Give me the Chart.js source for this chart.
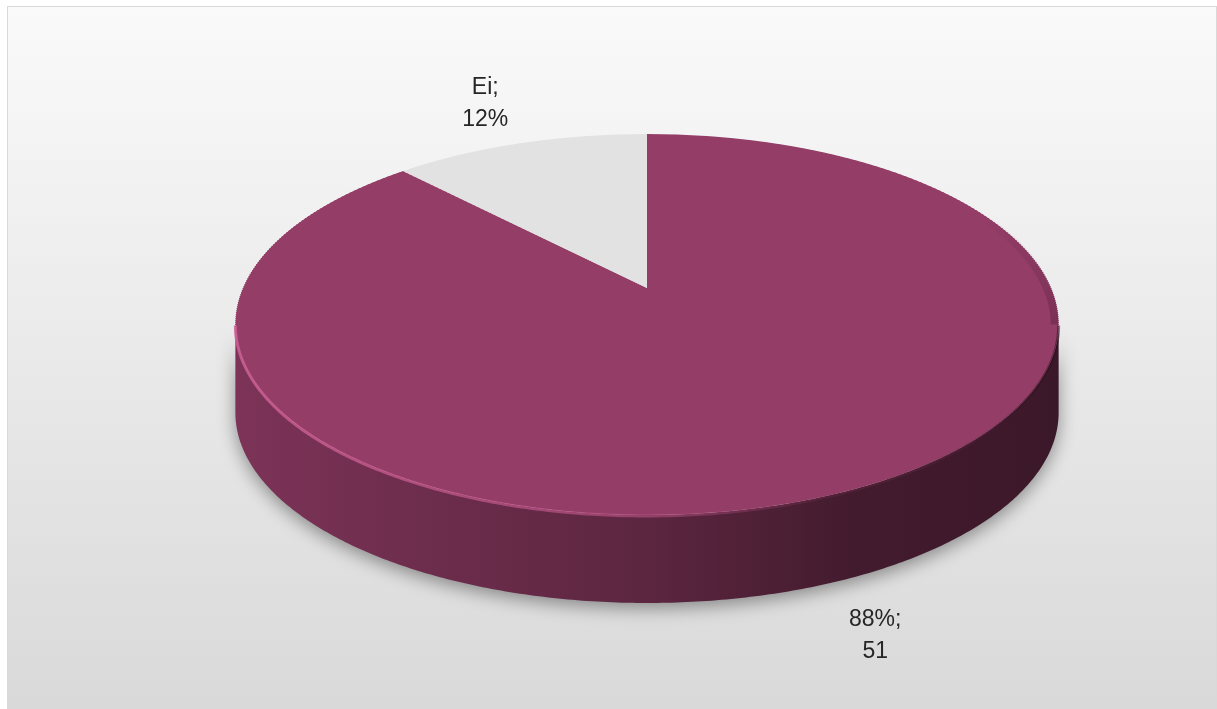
<!doctype html>
<html lang="fi">
<head>
<meta charset="utf-8">
<title>Ei / Kyllä</title>
<script src="https://cdn.jsdelivr.net/npm/chart.js@4.4.1/dist/chart.umd.min.js"></script>
<style>
  html, body { margin: 0; padding: 0; background: #fff; }
  canvas { display: block; }
</style>
</head>
<body>
<canvas id="pie-chart" width="1217" height="709"></canvas>
<script>
// data
var categories = ['Kyllä', 'Ei'];
var values = [51, 7];
var colours = ['#943d67', '#e2e2e2'];
// what each data label shows, line by line
var labelParts = [['percent', 'value'], ['category', 'percent']];
var labelDistance = [1.2, 1.34];

// how the flat pie is tilted on screen (simple perspective)
var view = { cx: 647, cy: 288, rx: 404, ry: 183.5, persp: 0.1916, depth: 88 };

function project(u, v) {
  var w = 1 - view.persp * v;
  return { x: view.cx + view.rx * u / w, y: view.cy + view.ry * v / w };
}

function hexRgb(h) {
  h = h.replace('#', '');
  return [parseInt(h.substr(0, 2), 16), parseInt(h.substr(2, 2), 16), parseInt(h.substr(4, 2), 16)];
}

function shade(hex, f) {
  var c = hexRgb(hex);
  return 'rgb(' + Math.round(c[0] * f) + ',' + Math.round(c[1] * f) + ',' + Math.round(c[2] * f) + ')';
}

// part of [a0,a1] that lies on the visible front of the pie
function frontRange(a0, a1) {
  var lo = Math.asin(view.persp), hi = Math.PI - lo;
  for (var k = -1; k <= 1; k++) {
    var s = Math.max(a0 + k * 2 * Math.PI, lo), e = Math.min(a1 + k * 2 * Math.PI, hi);
    if (e > s) return [s, e];
  }
  return null;
}

function outline(a0, a1, dy) {
  var pts = [];
  var n = Math.max(2, Math.ceil((a1 - a0) / 0.01));
  for (var i = 0; i <= n; i++) {
    var t = a0 + (a1 - a0) * i / n;
    var p = project(Math.cos(t), Math.sin(t));
    pts.push([p.x, p.y + dy]);
  }
  return pts;
}

function tracePath(ctx, pts, dx, dy) {
  ctx.beginPath();
  pts.forEach(function (p, j) { j ? ctx.lineTo(p[0] + dx, p[1] + dy) : ctx.moveTo(p[0] + dx, p[1] + dy); });
}

var pie3d = {
  id: 'pie3d',
  beforeDraw: function (chart) {
    var ctx = chart.ctx;
    ctx.save();
    ctx.fillStyle = '#ffffff';
    ctx.fillRect(0, 0, chart.width, chart.height);
    var g = ctx.createLinearGradient(0, 6, 0, chart.height);
    g.addColorStop(0, '#fafafa');
    g.addColorStop(1, '#d9d9d9');
    ctx.fillStyle = g;
    ctx.fillRect(7, 6, chart.width - 7, chart.height - 6);
    ctx.strokeStyle = '#d9d9d9';
    ctx.lineWidth = 1;
    ctx.strokeRect(7.5, 6.5, chart.width - 8, chart.height);
    ctx.restore();
  },
  beforeDatasetsDraw: function (chart) {
    var ctx = chart.ctx;
    var arcs = chart.getDatasetMeta(0).data;
    var left = view.cx - view.rx * 1.02, right = view.cx + view.rx * 1.02;

    // side walls of the slices at the front
    arcs.forEach(function (el, i) {
      var r = frontRange(el.startAngle, el.endAngle);
      if (!r) return;
      var top = outline(r[0], r[1], 0);
      var bot = outline(r[0], r[1], view.depth).reverse();
      var g = ctx.createLinearGradient(left, 0, right, 0);
      g.addColorStop(0, shade(colours[i], 0.84));
      g.addColorStop(0.5, shade(colours[i], 0.62));
      g.addColorStop(0.75, shade(colours[i], 0.45));
      g.addColorStop(1, shade(colours[i], 0.4));
      ctx.save();
      ctx.shadowColor = 'rgba(0,0,0,0.4)';
      ctx.shadowBlur = 18;
      ctx.shadowOffsetY = 5;
      ctx.fillStyle = g;
      tracePath(ctx, top.concat(bot), 0, 0);
      ctx.closePath();
      ctx.fill();
      ctx.restore();
    });

    // top face: let Chart.js draw its arcs strip by strip, each strip squashed for its depth
    var el0 = arcs[0];
    var ccx = el0.x, ccy = el0.y, R = el0.outerRadius;
    var yTop = Math.floor(project(0, -1).y) - 2, yBot = Math.ceil(project(0, 1).y) + 2;
    for (var y = yTop; y < yBot; y += 2) {
      var ym = y + 1;
      var vm = (ym - view.cy) / (view.ry + view.persp * (ym - view.cy));
      var wm = 1 - view.persp * vm;
      var a = view.rx / (wm * R), d = view.ry / (wm * wm * R);
      ctx.save();
      ctx.beginPath();
      ctx.rect(0, y, chart.width, 2);
      ctx.clip();
      ctx.transform(a, 0, 0, d, view.cx - a * ccx, ym - d * (ccy + vm * R));
      arcs.forEach(function (el) { el.draw(ctx); });
      ctx.restore();
    }

    // light rim along the front edge, soft dark rim on the right
    var lo = Math.asin(view.persp);
    var rim = outline(lo, Math.PI - lo, 0);
    var rg = ctx.createLinearGradient(left, 0, right, 0);
    rg.addColorStop(0, 'rgba(205,95,150,0.85)');
    rg.addColorStop(0.5, 'rgba(195,88,140,0.55)');
    rg.addColorStop(0.72, 'rgba(150,60,100,0.15)');
    rg.addColorStop(1, 'rgba(40,10,25,0.5)');
    ctx.save();
    ctx.strokeStyle = rg;
    ctx.lineWidth = 3;
    tracePath(ctx, rim, 0, 1);
    ctx.stroke();
    var dark = outline(-0.45, lo, 0);
    var dg = ctx.createLinearGradient(0, dark[0][1], 0, dark[dark.length - 1][1]);
    dg.addColorStop(0, 'rgba(45,12,28,0)');
    dg.addColorStop(1, 'rgba(45,12,28,0.25)');
    ctx.strokeStyle = dg;
    ctx.lineWidth = 8;
    tracePath(ctx, dark, -4, 0);
    ctx.stroke();
    ctx.restore();
    return false;
  },
  afterDraw: function (chart) {
    var ctx = chart.ctx;
    var arcs = chart.getDatasetMeta(0).data;
    var total = values.reduce(function (s, v) { return s + v; }, 0);
    ctx.save();
    ctx.font = '23px "Liberation Sans", Arial, sans-serif';
    ctx.fillStyle = '#262626';
    ctx.textAlign = 'center';
    ctx.textBaseline = 'middle';
    arcs.forEach(function (el, i) {
      var mid = (el.startAngle + el.endAngle) / 2;
      var k = labelDistance[i];
      var v = k * Math.sin(mid);
      var p = project(k * Math.cos(mid), v);
      if (v > 0) p.y += view.depth;
      var pct = Math.round(values[i] / total * 100) + '%';
      var parts = labelParts[i].map(function (t) {
        if (t === 'category') return categories[i];
        if (t === 'percent') return pct;
        return String(values[i]);
      });
      ctx.fillText(parts[0] + ';', p.x, p.y - 16);
      ctx.fillText(parts[1], p.x, p.y + 16);
    });
    ctx.restore();
  }
};

var config = {
  type: 'pie',
  data: {
    labels: categories,
    datasets: [{
      data: values,
      backgroundColor: colours,
      borderWidth: 0
    }]
  },
  options: {
    responsive: false,
    animation: false,
    events: [],
    plugins: {
      legend: { display: false },
      tooltip: { enabled: false }
    }
  },
  plugins: [pie3d]
};

var ctx = document.getElementById('pie-chart').getContext('2d');
var myPie = new Chart(ctx, config);
</script>
</body>
</html>
